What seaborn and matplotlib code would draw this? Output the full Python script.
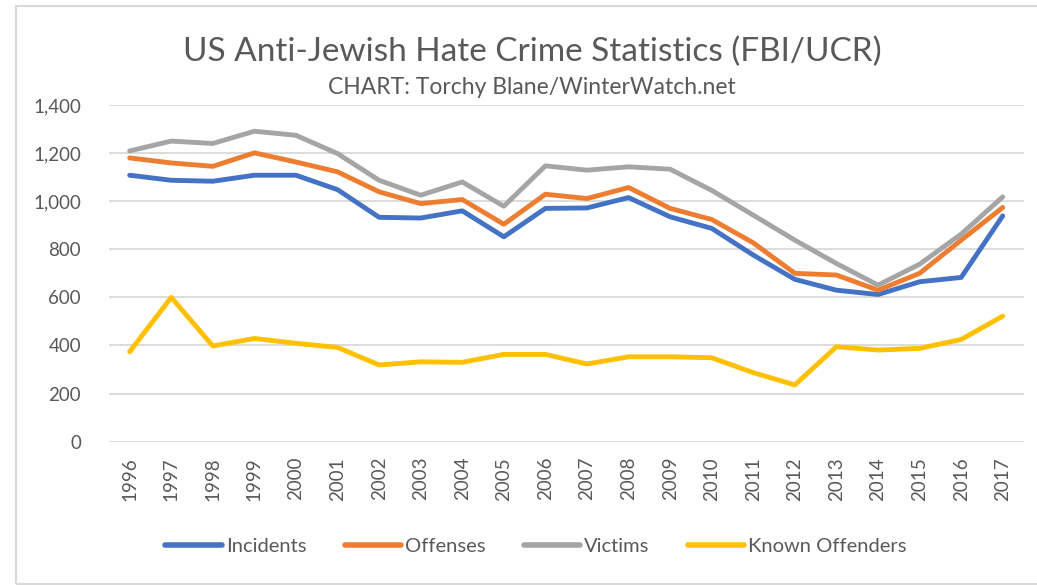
import pandas as pd
import matplotlib.pyplot as plt
import seaborn as sns
from matplotlib.patches import Rectangle

years = list(range(1996, 2018))
incidents = [1108, 1087, 1083, 1108, 1108, 1048, 933, 930, 960, 852, 970, 972,
             1015, 935, 887, 776, 675, 630, 612, 665, 683, 939]
offenses = [1180, 1159, 1145, 1201, 1163, 1122, 1039, 990, 1007, 904, 1029, 1011,
            1057, 970, 924, 827, 700, 693, 630, 700, 838, 974]
victims = [1209, 1250, 1240, 1291, 1274, 1198, 1087, 1025, 1080, 979, 1147, 1129,
           1143, 1133, 1045, 942, 838, 741, 651, 738, 863, 1018]
known_offenders = [374, 600, 398, 429, 409, 392, 319, 332, 330, 363, 363, 323,
                   353, 353, 349, 287, 236, 395, 381, 388, 425, 522]

series = ['Incidents', 'Offenses', 'Victims', 'Known Offenders']
colors = ['#4472C4', '#ED7D31', '#A5A5A5', '#FFC000']

rows = []
for name, vals in zip(series, [incidents, offenses, victims, known_offenders]):
    for i, (y, v) in enumerate(zip(years, vals)):
        rows.append({'pos': i, 'year': str(y), 'series': name, 'value': v})
df = pd.DataFrame(rows)

sns.set_style('white')
plt.rcParams['font.family'] = ['Lato', 'DejaVu Sans']

fig = plt.figure(figsize=(10.37, 5.85), dpi=100)
ax = fig.add_axes([0.105, 0.245, 0.882, 0.5755])

sns.lineplot(data=df, x='pos', y='value', hue='series', hue_order=series,
             palette=colors, linewidth=3.5, ax=ax, solid_capstyle='round')

ax.set_xlim(-0.5, 21.5)
ax.set_ylim(0, 1400)
ax.set_yticks(range(0, 1401, 200))
ax.set_yticklabels([f'{v:,}' for v in range(0, 1401, 200)])
ax.set_xticks(range(len(years)))
ax.set_xticklabels([str(y) for y in years], rotation=90)
ax.tick_params(axis='both', length=0, labelsize=13.5, labelcolor='#595959')
ax.tick_params(axis='y', pad=20)
ax.tick_params(axis='x', pad=11)
ax.grid(axis='y', color='#D9D9D9', linewidth=1.3)
ax.set_axisbelow(True)
for s in ax.spines.values():
    s.set_visible(False)
ax.set_xlabel('')
ax.set_ylabel('')

# legend under the year labels
ax.legend(loc='center', bbox_to_anchor=(0.467, -0.31), ncol=4, frameon=False,
          fontsize=14.5, handlelength=2.8, handletextpad=0.2, columnspacing=1.9,
          labelcolor='#595959')
for h in ax.get_legend().get_lines():
    h.set_linewidth(4.0)

fig.text(0.513, 0.912, 'US Anti-Jewish Hate Crime Statistics (FBI/UCR)',
         ha='center', va='center', fontsize=24, color='#595959')
fig.text(0.513, 0.851, 'CHART: Torchy Blane/WinterWatch.net',
         ha='center', va='center', fontsize=16.5, color='#595959')

# chart-area border, open on the right like the source
fig.patches.append(Rectangle((0.0155, 0.002), 1.2, 0.988, transform=fig.transFigure,
                             fill=False, edgecolor='#D9D9D9', linewidth=1.5))

fig.savefig('out.png', dpi=100)
